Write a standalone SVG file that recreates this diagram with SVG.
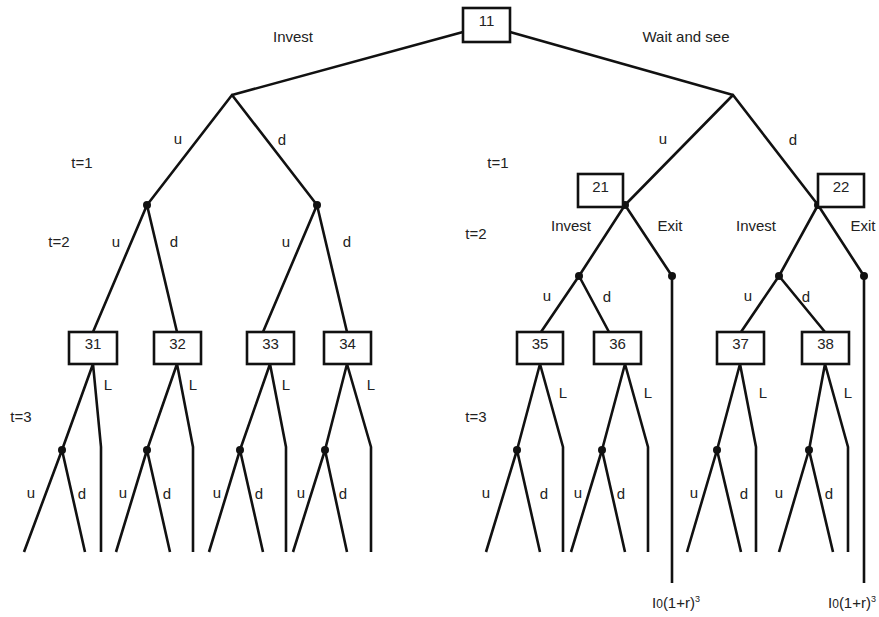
<svg xmlns="http://www.w3.org/2000/svg" width="879" height="617" viewBox="0 0 879 617">
  <style>
    .edge { fill: none; stroke: #111; stroke-width: 2.6; stroke-linejoin: round; }
    .box { fill: #fff; stroke: #111; stroke-width: 2.6; }
    .dot { fill: #111; }
    text { font-family: "Liberation Sans", Arial, sans-serif; font-size: 15px; fill: #222; text-anchor: middle; }
    .num { font-size: 15px; }
  </style>
  <rect width="879" height="617" fill="#fff"/>

  <!-- connectors -->
  <g id="connectors">
    <!-- root decisions -->
    <polyline class="edge" points="463,32 232,95"/>
    <polyline class="edge" points="510,32 733,95"/>
    <!-- invest branch, t=1 and t=2 -->
    <polyline class="edge" points="147,205 232,95 317,205"/>
    <polyline class="edge" points="93,332 147,205 177,332"/>
    <polyline class="edge" points="263,332 317,205 347,332"/>
    <!-- wait branch, t=1 -->
    <polyline class="edge" points="625,205 733,95 818,205"/>
    <polyline class="edge" points="579,276 625,205 672,276"/>
    <polyline class="edge" points="779,276 818,205 864,276"/>
    <polyline class="edge" points="672,276 672,583"/>
    <polyline class="edge" points="864,276 864,583"/>
    <polyline class="edge" points="541,332 579,276 609,332"/>
    <polyline class="edge" points="741,332 779,276 825,332"/>
    <!-- t=3 subtrees: up/down node plus L leg -->
    <polyline class="edge" points="62,450 93,364 101,447 101,552"/>
    <polyline class="edge" points="24,552 62,450 85,552"/>
    <polyline class="edge" points="147,450 177,364 193,447 193,552"/>
    <polyline class="edge" points="116,552 147,450 170,552"/>
    <polyline class="edge" points="240,450 270,364 286,447 286,552"/>
    <polyline class="edge" points="209,552 240,450 263,552"/>
    <polyline class="edge" points="325,450 347,364 371,447 371,552"/>
    <polyline class="edge" points="293,552 325,450 347,552"/>
    <polyline class="edge" points="517,450 540,364 563,447 563,552"/>
    <polyline class="edge" points="486,552 517,450 540,552"/>
    <polyline class="edge" points="602,450 625,364 648,447 648,552"/>
    <polyline class="edge" points="571,552 602,450 625,552"/>
    <polyline class="edge" points="717,450 740,364 756,447 756,552"/>
    <polyline class="edge" points="687,552 717,450 741,552"/>
    <polyline class="edge" points="809,450 825,364 848,447 848,552"/>
    <polyline class="edge" points="779,552 809,450 833,552"/>
    <!-- chance dots -->
    <circle class="dot" cx="147" cy="205" r="4"/>
    <circle class="dot" cx="317" cy="205" r="4"/>
    <circle class="dot" cx="625" cy="205" r="4"/>
    <circle class="dot" cx="818" cy="205" r="4"/>
    <circle class="dot" cx="579" cy="276" r="4"/>
    <circle class="dot" cx="672" cy="276" r="4"/>
    <circle class="dot" cx="779" cy="276" r="4"/>
    <circle class="dot" cx="864" cy="276" r="4"/>
    <circle class="dot" cx="62" cy="450" r="4"/>
    <circle class="dot" cx="147" cy="450" r="4"/>
    <circle class="dot" cx="240" cy="450" r="4"/>
    <circle class="dot" cx="325" cy="450" r="4"/>
    <circle class="dot" cx="517" cy="450" r="4"/>
    <circle class="dot" cx="602" cy="450" r="4"/>
    <circle class="dot" cx="717" cy="450" r="4"/>
    <circle class="dot" cx="809" cy="450" r="4"/>
  </g>

  <!-- decision nodes -->
  <g id="n11"><rect class="box" x="463" y="8" width="47" height="34"/><text class="num" x="486.5" y="26">11</text></g>
  <g id="n21"><rect class="box" x="578" y="174" width="45" height="33"/><text class="num" x="600.5" y="192">21</text></g>
  <g id="n22"><rect class="box" x="818" y="174" width="46" height="33"/><text class="num" x="841" y="192">22</text></g>
  <g id="n31"><rect class="box" x="69" y="332" width="48" height="32"/><text class="num" x="93" y="349">31</text></g>
  <g id="n32"><rect class="box" x="154" y="332" width="47" height="32"/><text class="num" x="177.5" y="349">32</text></g>
  <g id="n33"><rect class="box" x="247" y="332" width="47" height="32"/><text class="num" x="270.5" y="349">33</text></g>
  <g id="n34"><rect class="box" x="324" y="332" width="47" height="32"/><text class="num" x="347.5" y="349">34</text></g>
  <g id="n35"><rect class="box" x="517" y="332" width="46" height="32"/><text class="num" x="540" y="349">35</text></g>
  <g id="n36"><rect class="box" x="594" y="332" width="47" height="32"/><text class="num" x="617.5" y="349">36</text></g>
  <g id="n37"><rect class="box" x="717" y="332" width="47" height="32"/><text class="num" x="740.5" y="349">37</text></g>
  <g id="n38"><rect class="box" x="802" y="332" width="47" height="32"/><text class="num" x="825.5" y="349">38</text></g>

  <!-- branch and period labels -->
  <g id="labels">
    <text x="293" y="42">Invest</text>
    <text x="686" y="42">Wait and see</text>
    <text x="178" y="144">u</text>
    <text x="282" y="145">d</text>
    <text x="663" y="144">u</text>
    <text x="793" y="145">d</text>
    <text x="82" y="168">t=1</text>
    <text x="498" y="168">t=1</text>
    <text x="59" y="247">t=2</text>
    <text x="476" y="239">t=2</text>
    <text x="116" y="247">u</text>
    <text x="174" y="247">d</text>
    <text x="286" y="247">u</text>
    <text x="347" y="247">d</text>
    <text x="571" y="231">Invest</text>
    <text x="670" y="231">Exit</text>
    <text x="756" y="231">Invest</text>
    <text x="863" y="231">Exit</text>
    <text x="547" y="301">u</text>
    <text x="607" y="302">d</text>
    <text x="748" y="301">u</text>
    <text x="806" y="302">d</text>
    <text x="108" y="390">L</text>
    <text x="193" y="390">L</text>
    <text x="286" y="390">L</text>
    <text x="371" y="390">L</text>
    <text x="563" y="398">L</text>
    <text x="648" y="398">L</text>
    <text x="763" y="398">L</text>
    <text x="848" y="398">L</text>
    <text x="21" y="422">t=3</text>
    <text x="476" y="422">t=3</text>
    <text x="31" y="498">u</text>
    <text x="82" y="499">d</text>
    <text x="123" y="498">u</text>
    <text x="167" y="499">d</text>
    <text x="217" y="498">u</text>
    <text x="259" y="499">d</text>
    <text x="301" y="498">u</text>
    <text x="343" y="499">d</text>
    <text x="486" y="498">u</text>
    <text x="544" y="499">d</text>
    <text x="578" y="498">u</text>
    <text x="621" y="499">d</text>
    <text x="694" y="498">u</text>
    <text x="744" y="499">d</text>
    <text x="779" y="498">u</text>
    <text x="829" y="499">d</text>
    <text x="676" y="608">I<tspan font-size="12">0</tspan>(1+r)<tspan font-size="9" dy="-6">3</tspan></text>
    <text x="852" y="608">I<tspan font-size="12">0</tspan>(1+r)<tspan font-size="9" dy="-6">3</tspan></text>
  </g>
</svg>
